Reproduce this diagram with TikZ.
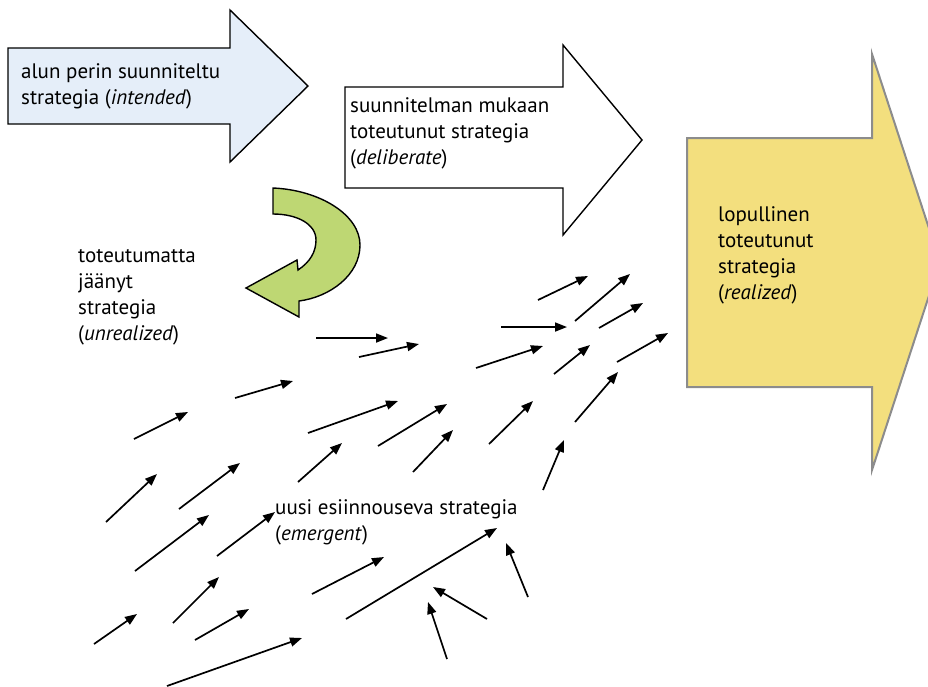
\documentclass[tikz,border=0pt]{standalone}
\usepackage{fontspec}
\setmainfont{PT Sans}
\usetikzlibrary{arrows.meta}
\definecolor{intendedfill}{RGB}{229,238,249}
\definecolor{realizedfill}{RGB}{243,223,126}
\definecolor{realizededge}{RGB}{140,140,140}
\definecolor{unrealizedfill}{RGB}{190,215,115}
\begin{document}
\begin{tikzpicture}[x=1pt,y=-1pt,
  bigarrow/.style={line width=1.4pt, line join=miter, draw=black},
  flow/.style={line width=1.7pt, -{Triangle[length=12pt,width=9pt]}},
  % multi-line labels are placed by the baseline of their last line
  lbl/.style={align=left, anchor=base west, inner sep=0pt,
              font=\fontsize{21}{26}\selectfont}]
\useasboundingbox (0,0) rectangle (928,686);
\clip (0,0) rectangle (928,686);

% intended strategy
\draw[bigarrow, fill=intendedfill]
  (8,48) -- (230,48) -- (230,10) -- (308,86) -- (230,162) -- (230,124) -- (8,124) -- cycle;
% deliberate strategy
\draw[bigarrow, fill=white]
  (345,87) -- (563,87) -- (563,45) -- (642,140) -- (563,235) -- (563,188) -- (345,188) -- cycle;
% realized strategy
\draw[line width=2pt, draw=realizededge, fill=realizedfill, line join=miter]
  (687,138) -- (872,138) -- (872,54) -- (940,262) -- (872,470) -- (872,387) -- (687,387) -- cycle;
% unrealized: curved arrow turning back
\draw[bigarrow, fill=unrealizedfill]
  (273,188) .. controls (320,190) and (360,215) .. (360,245)
  .. controls (360,275) and (330,297) .. (299,301)
  -- (299,317) -- (246,288) -- (297,260) -- (298,270)
  .. controls (310,262) and (316,252) .. (316,240)
  .. controls (316,224) and (297,214) .. (273,214) -- cycle;

% labels
\node[lbl] (intended) at (21,104) {alun perin suunniteltu\\strategia (\textit{intended})};
\node[lbl] (deliberate) at (350,164) {suunnitelman mukaan\\toteutunut strategia\\(\textit{deliberate})};
\node[lbl] (unrealized) at (78,340) {toteutumatta\\jäänyt\\strategia\\(\textit{unrealized})};
\node[lbl] (realized) at (718,299) {lopullinen\\toteutunut\\strategia\\(\textit{realized})};
\node[lbl] (emergent) at (275,540) {uusi esiinnouseva strategia\\(\textit{emergent})};

% emergent strategy: scattered small arrows (tail/head)
\foreach \tx/\ty/\hx/\hy [count=\i] in {
  316/338/388/338, 359/357/419/344, 235/398/293/381, 134/439/188/412,
  308/433/398/401, 378/446/447/404, 413/472/453/430, 298/482/342/443,
  179/509/240/463, 106/522/157/474, 135/571/209/515, 217/556/275/512,
  173/623/219/577, 94/644/137/614, 195/640/249/609, 167/686/302/638,
  312/594/384/557, 346/619/497/528, 487/619/433/587, 447/659/428/602,
  528/597/506/543, 489/444/533/401, 543/490/564/440, 476/368/543/346,
  501/327/567/327, 538/300/588/276, 575/321/630/274, 554/374/590/345,
  599/328/643/303, 575/422/618/372, 617/362/668/333}
{
  \coordinate (t\i) at (\tx,\ty);
  \coordinate (h\i) at (\hx,\hy);
  \draw[flow] (t\i) -- (h\i);
}
\end{tikzpicture}
\end{document}
